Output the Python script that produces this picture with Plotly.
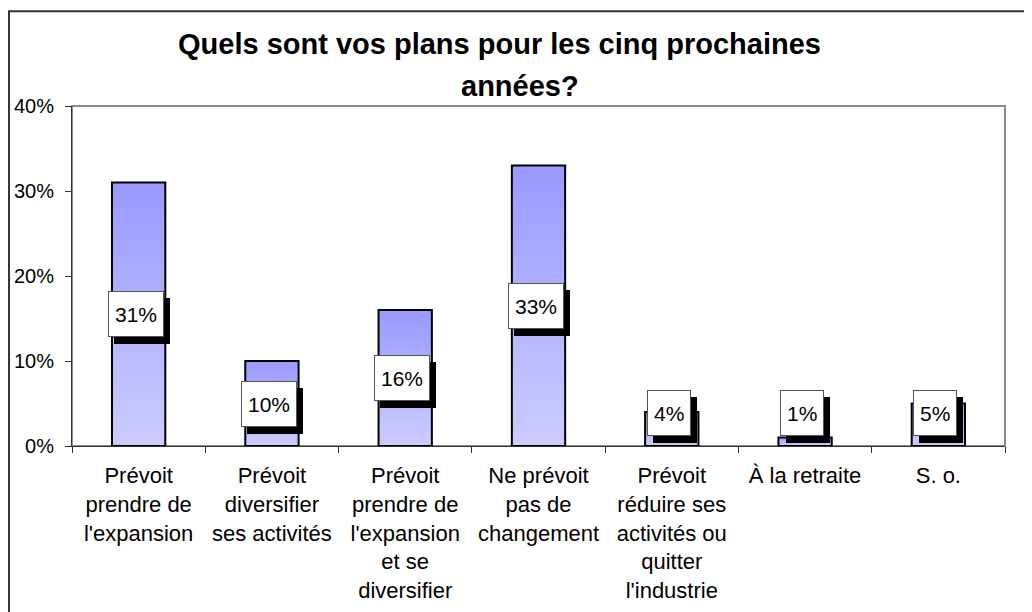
import plotly.graph_objects as go

categories = [
    "Prévoit<br>prendre de<br>l'expansion",
    "Prévoit<br>diversifier<br>ses activités",
    "Prévoit<br>prendre de<br>l'expansion<br>et se<br>diversifier",
    "Ne prévoit<br>pas de<br>changement",
    "Prévoit<br>réduire ses<br>activités ou<br>quitter<br>l'industrie",
    "À la retraite",
    "S. o.",
]
values = [31, 10, 16, 33, 4, 1, 5]
y_ticks = [0, 10, 20, 30, 40]
title_lines = ["Quels sont vos plans pour les cinq prochaines", "années?"]

FONT = "Liberation Sans, Arial, sans-serif"
HALF_W = 0.2
PX_PER_UNIT = 340 / 40  # plot height / y range

fig = go.Figure()

# bars as filled outlines so each one can carry its own vertical gradient
for i, v in enumerate(values):
    fig.add_trace(go.Scatter(
        x=[i - HALF_W, i - HALF_W, i + HALF_W, i + HALF_W, i - HALF_W],
        y=[0, v, v, 0, 0],
        mode="lines",
        fill="toself",
        fillgradient=dict(type="vertical",
                          colorscale=[[0, "#ccccff"], [1, "#9999ff"]]),
        line=dict(color="black", width=2),
        hoverinfo="skip",
        showlegend=False,
    ))

# value labels: white box with a black drop shadow
annotations = []
for i, v in enumerate(values):
    if v / 2 * PX_PER_UNIT < 33:
        y, anchor, base = 0, "bottom", 10
    else:
        y, anchor, base = v / 2, "middle", 0
    common = dict(x=i, y=y, xref="x", yref="y", text=f"{v}%",
                  showarrow=False, yanchor=anchor, xanchor="center",
                  height=32, borderpad=6, borderwidth=1)
    annotations.append(dict(common, bgcolor="black", bordercolor="black",
                            font=dict(family=FONT, size=21, color="black"),
                            xshift=3, yshift=base - 7))
    annotations.append(dict(common, bgcolor="white", bordercolor="#555555",
                            font=dict(family=FONT, size=21, color="black"),
                            xshift=-3, yshift=base))

# title, two centred lines as in the original chart
for text, tx, ty in [(title_lines[0], 0.458, 1.182), (title_lines[1], 0.48, 1.06)]:
    annotations.append(dict(
        text=f"<b>{text}</b>", x=tx, y=ty, xref="paper", yref="paper",
        xanchor="center", yanchor="middle", showarrow=False,
        font=dict(family=FONT, size=29, color="black"),
    ))

fig.update_layout(
    width=1024, height=604,
    margin=dict(l=64, r=27, t=98, b=166),
    paper_bgcolor="white", plot_bgcolor="white",
    font=dict(family=FONT, size=20, color="black"),
    annotations=annotations,
    shapes=[
        # plot area frame
        dict(type="rect", xref="paper", yref="paper", x0=0, x1=1, y0=0, y1=1,
             line=dict(color="#8c8c8c", width=2), layer="below"),
        # outer chart border (cropped at right and bottom)
        dict(type="rect", xref="paper", yref="paper",
             x0=-0.0675, x1=1.2, y0=-1, y1=1.279,
             line=dict(color="#333333", width=2)),
    ],
)

fig.update_xaxes(
    range=[-0.5, 6.5], automargin=False,
    tickmode="array", tickvals=list(range(len(categories))), ticktext=categories,
    ticks="", ticklabelstandoff=10, showgrid=False, zeroline=False,
    showline=True, linecolor="#333333", linewidth=1,
    tickfont=dict(family=FONT, size=22),
    minor=dict(tickmode="array",
               tickvals=[i + 0.5 for i in range(-1, len(categories))],
               ticks="outside", ticklen=6, tickcolor="#333333", showgrid=False),
)
fig.update_yaxes(
    range=[0, 40], automargin=False, tickmode="array", tickvals=y_ticks,
    ticktext=[f"{t}%" for t in y_ticks],
    ticks="outside", ticklen=6, tickcolor="#333333", ticklabelstandoff=7,
    showgrid=False, zeroline=False,
    showline=True, linecolor="#333333", linewidth=1,
    tickfont=dict(family=FONT, size=20),
)

fig.write_html("out.html")
